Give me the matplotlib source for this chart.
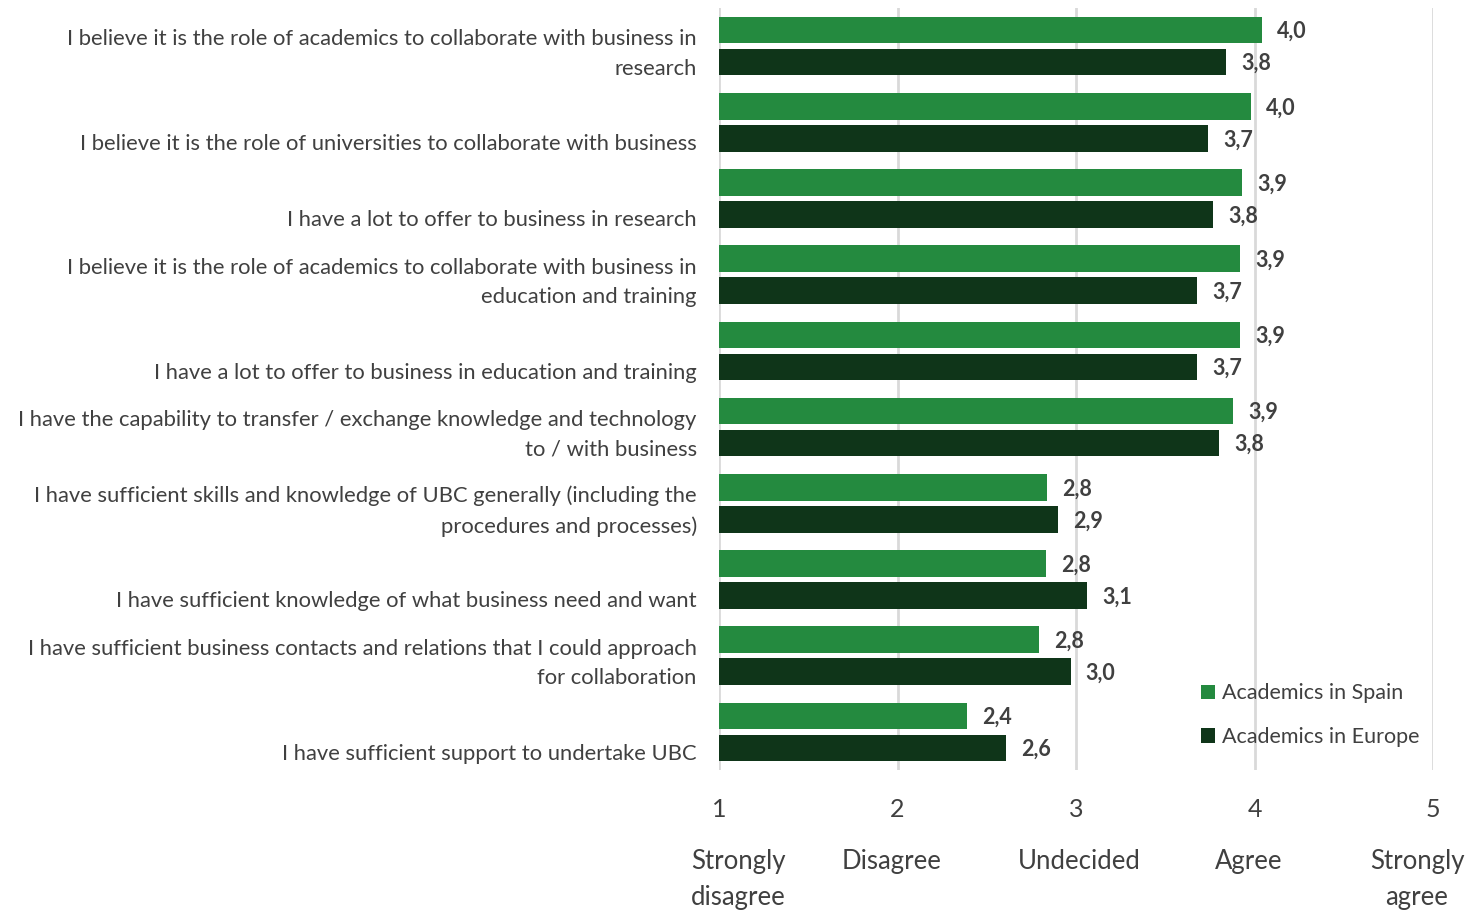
import matplotlib.pyplot as plt
import matplotlib.transforms as mtransforms
import numpy as np

statements = [
    "I believe it is the role of academics to collaborate with business in\nresearch",
    "I believe it is the role of universities to collaborate with business",
    "I have a lot to offer to business in research",
    "I believe it is the role of academics to collaborate with business in\neducation and training",
    "I have a lot to offer to business in education and training",
    "I have the capability to transfer / exchange knowledge and technology\nto / with business",
    "I have sufficient skills and knowledge of UBC generally (including the\nprocedures and processes)",
    "I have sufficient knowledge of what business need and want",
    "I have sufficient business contacts and relations that I could approach\nfor collaboration",
    "I have sufficient support to undertake UBC",
]
spain = [4.04, 3.98, 3.93, 3.92, 3.92, 3.88, 2.84, 2.83, 2.79, 2.39]
europe = [3.84, 3.74, 3.77, 3.68, 3.68, 3.80, 2.90, 3.06, 2.97, 2.61]
scale_ticks = [1, 2, 3, 4, 5]
scale_names = ["Strongly\ndisagree", "Disagree", "Undecided", "Agree", "Strongly\nagree"]
name_shift_px = [19, -6, 3, -6, -16]

plt.rcParams['font.family'] = ['Lato', 'DejaVu Sans']
c_spain = '#248A3F'
c_europe = '#0F3519'
txt = '#404040'

fig = plt.figure(figsize=(14.7, 9.11), dpi=100)
ax = fig.add_axes([719 / 1470, 1 - 770 / 911, (1433 - 719) / 1470, (770 - 8) / 911])

y = np.arange(len(statements))
h = 0.35
off = 0.21
ax.barh(y - off, [v - 1 for v in spain], left=1, height=h, color=c_spain,
        label='Academics in Spain', zorder=3)
ax.barh(y + off, [v - 1 for v in europe], left=1, height=h, color=c_europe,
        label='Academics in Europe', zorder=3)

for yi, s, e in zip(y, spain, europe):
    ax.text(s + 0.085, yi - off + 0.02, f"{s:.1f}".replace('.', ','), va='center', ha='left',
            fontsize=15.5, fontweight='bold', color=txt)
    ax.text(e + 0.085, yi + off + 0.02, f"{e:.1f}".replace('.', ','), va='center', ha='left',
            fontsize=15.5, fontweight='bold', color=txt)

ax.set_xlim(1, 5)
ax.set_ylim(len(statements) - 0.5, -0.5)
ax.set_xticks(scale_ticks)
ax.set_xticklabels([str(t) for t in scale_ticks], fontsize=18, color=txt)
ax.tick_params(axis='x', length=0, pad=20)
ax.grid(axis='x', color='#D9D9D9', linewidth=2, zorder=0)
ax.set_axisbelow(True)
for sp in ax.spines.values():
    sp.set_visible(False)

ax.set_yticks(y)
ax.set_yticklabels(statements, fontsize=15.8, color=txt, linespacing=1.6)
ax.tick_params(axis='y', length=0, pad=16)
for lbl in ax.get_yticklabels():
    n = lbl.get_text().count('\n')
    dy = -1 if n else -20
    lbl.set_transform(lbl.get_transform() +
                      mtransforms.ScaledTranslation(0, dy / 100, fig.dpi_scale_trans))
    lbl.set_multialignment('right')

for t, name, sh in zip(scale_ticks, scale_names, name_shift_px):
    ax.text(t, -0.104, name, ha='center', va='top', fontsize=18.5, color=txt,
            linespacing=1.55,
            transform=ax.get_xaxis_transform() +
            mtransforms.ScaledTranslation(sh / 100, 0, fig.dpi_scale_trans))

ax.legend(loc='upper left', bbox_to_anchor=(1182 / 1470, 1 - 664 / 911),
          bbox_transform=fig.transFigure, frameon=False, fontsize=15.5,
          labelcolor=txt, handlelength=0.65, handleheight=0.65, handletextpad=0.3,
          labelspacing=1.1)

fig.savefig('out.png', dpi=100)
